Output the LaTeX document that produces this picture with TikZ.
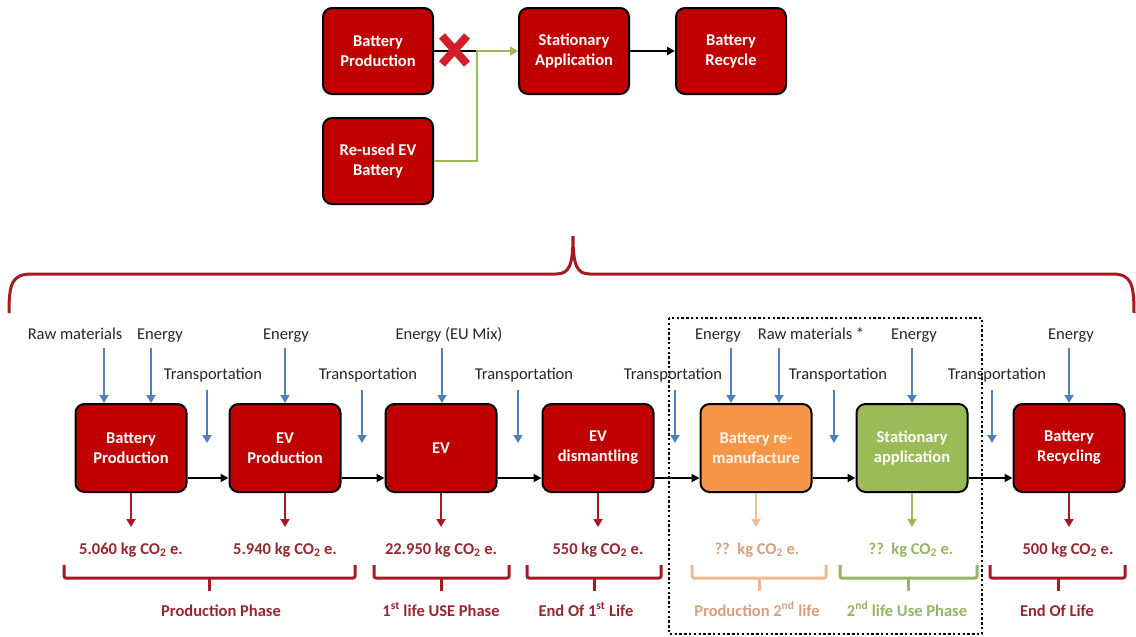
\documentclass[tikz,border=0pt]{standalone}
\usepackage{fontspec}
\setmainfont{Carlito}
\usetikzlibrary{arrows.meta}
\definecolor{boxred}{RGB}{192,0,0}
\definecolor{bracered}{RGB}{165,25,35}
\definecolor{txtred}{RGB}{150,40,50}
\definecolor{bluea}{RGB}{84,128,185}
\definecolor{orangeb}{RGB}{247,150,70}
\definecolor{greenb}{RGB}{155,187,89}
\definecolor{peachtxt}{RGB}{214,160,125}
\definecolor{peacharr}{RGB}{236,190,160}
\definecolor{greentxt}{RGB}{150,180,100}
\definecolor{xred}{RGB}{210,30,40}
\begin{document}
\begin{tikzpicture}[x=1pt,y=-1pt,
  bx/.style={draw=black, line width=2pt, rounded corners=9pt, minimum width=111pt, minimum height=88pt,
    fill=boxred, text=white, font=\bfseries\fontsize{16.5}{20}\selectfont, align=center, inner sep=0pt},
  topbx/.style={bx, minimum width=110pt, minimum height=86pt},
  lab/.style={font=\fontsize{16.5}{19}\selectfont, text=black!85, inner sep=0pt, anchor=base},
  colab/.style={font=\bfseries\fontsize{16.5}{19}\selectfont, inner sep=0pt, anchor=base},
  phase/.style={font=\bfseries\fontsize{16.5}{19}\selectfont, inner sep=0pt, anchor=base},
  flow/.style={draw=black, line width=2pt, -{Triangle[length=8pt,width=8pt]}},
  inarr/.style={draw=bluea, line width=2.6pt, -{Triangle[length=8pt,width=9pt]}},
  outarr/.style={line width=2.2pt, -{Triangle[length=8pt,width=9pt]}},
  smallbrace/.style={line width=3pt, rounded corners=2pt}
]
\useasboundingbox (0,0) rectangle (1136,637);
\fill[white] (0,0) rectangle (1136,637);

% ---------- top diagram ----------
\node[topbx] (tbp) at (378,51) {Battery\\Production};
\node[topbx] (tsa) at (574,51) {Stationary\\Application};
\node[topbx] (tbr) at (731,51) {Battery\\Recycle};
\node[topbx] (tre) at (378,161) {Re-used EV\\Battery};
\coordinate (xend) at (477,51);
\draw[line width=2.2pt] (tbp.east) -- (xend);
\draw[draw=greenb, line width=2.6pt, -{Triangle[length=8pt,width=9pt]}] (tre.east) -| (xend) -- (tsa.west);
\draw[flow] (tsa) -- (tbr);
\draw[xred, line width=8pt] (442,36) -- (467,64) (442,64) -- (467,36);

% ---------- big brace ----------
\draw[bracered, line width=3pt]
  (9,313) .. controls (9,283) and (12,274) .. (32,274) -- (556,274)
  .. controls (569,274) and (573,266) .. (573,236)
  .. controls (573,266) and (577,274) .. (590,274) -- (1112,274)
  .. controls (1131,274) and (1134,283) .. (1134,313);

% ---------- dotted frame ----------
\draw[line width=2.4pt, dash pattern=on 2.4pt off 2.4pt] (669,318) rectangle (982,634);

% ---------- main row ----------
\node[bx] (bp)  at (131,448) {Battery\\Production};
\node[bx] (evp) at (285,448) {EV\\Production};
\node[bx] (ev)  at (441,448) {EV};
\node[bx] (evd) at (598,448) {EV\\dismantling};
\node[bx, fill=orangeb, text=white!92!orange] (brm) at (756,448) {Battery re-\\manufacture};
\node[bx, fill=greenb] (sta) at (912,448) {Stationary\\application};
\node[bx] (brc) at (1069,448) {Battery\\Recycling};

\coordinate (hy) at (0,478);
\draw[flow] (bp.east |- hy) -- (evp.west |- hy);
\draw[flow] (evp.east |- hy) -- (ev.west |- hy);
\draw[flow] (ev.east |- hy) -- (evd.west |- hy);
\draw[flow] (evd.east |- hy) -- (brm.west |- hy);
\draw[flow] (brm.east |- hy) -- (sta.west |- hy);
\draw[flow] (sta.east |- hy) -- (brc.west |- hy);

% input labels
\node[lab] (rm1) at (75,339) {Raw materials};
\node[lab] (en1) at (160,339) {Energy};
\node[lab] (en2) at (286,339) {Energy};
\node[lab] (en3) at (449,339) {Energy (EU Mix)};
\node[lab] (en4) at (718,339) {Energy};
\node[lab] (rm2) at (811,339) {Raw materials *};
\node[lab] (en5) at (914,339) {Energy};
\node[lab] (en6) at (1071,339) {Energy};
\node[lab] (tr1) at (213,379) {Transportation};
\node[lab] (tr2) at (368,379) {Transportation};
\node[lab] (tr3) at (524,379) {Transportation};
\node[lab] (tr4) at (673,379) {Transportation};
\node[lab] (tr5) at (838,379) {Transportation};
\node[lab] (tr6) at (997,379) {Transportation};

% input arrows
\coordinate (a1) at (104,348);
\coordinate (a2) at (151,348);
\coordinate (a3) at (285,348);
\coordinate (a4) at (442,348);
\coordinate (a5) at (731,348);
\coordinate (a6) at (779,348);
\coordinate (a7) at (912,348);
\coordinate (a8) at (1069,348);
\draw[inarr] (a1) -- (a1 |- bp.north);
\draw[inarr] (a2) -- (a2 |- bp.north);
\draw[inarr] (a3) -- (a3 |- evp.north);
\draw[inarr] (a4) -- (a4 |- ev.north);
\draw[inarr] (a5) -- (a5 |- brm.north);
\draw[inarr] (a6) -- (a6 |- brm.north);
\draw[inarr] (a7) -- (a7 |- sta.north);
\draw[inarr] (a8) -- (a8 |- brc.north);
% transport arrows
\coordinate (ty) at (0,443);
\coordinate (t1) at (207,390);
\coordinate (t2) at (362,390);
\coordinate (t3) at (518,390);
\coordinate (t4) at (675,390);
\coordinate (t5) at (834,390);
\coordinate (t6) at (992,390);
\foreach \t in {t1,t2,t3,t4,t5,t6} {\draw[inarr] (\t) -- (\t |- ty);}

% outputs
\node[colab, text=txtred] (c1) at (131,554) {5.060 kg CO\textsubscript{2} e.};
\node[colab, text=txtred] (c2) at (285,554) {5.940 kg CO\textsubscript{2} e.};
\node[colab, text=txtred] (c3) at (441,554) {22.950 kg CO\textsubscript{2} e.};
\node[colab, text=txtred] (c4) at (598,554) {550 kg CO\textsubscript{2} e.};
\node[colab, text=peachtxt] (c5) at (757,554) {??\ \ kg CO\textsubscript{2} e.};
\node[colab, text=greentxt] (c6) at (911,554) {??\ \ kg CO\textsubscript{2} e.};
\node[colab, text=txtred] (c7) at (1068,554) {500 kg CO\textsubscript{2} e.};
\coordinate (oy) at (0,527);
\draw[outarr, bracered] (bp.south) -- (bp.south |- oy);
\draw[outarr, bracered] (evp.south) -- (evp.south |- oy);
\draw[outarr, bracered] (ev.south) -- (ev.south |- oy);
\draw[outarr, bracered] (evd.south) -- (evd.south |- oy);
\draw[outarr, peacharr] (brm.south) -- (brm.south |- oy);
\draw[outarr, greenb] (sta.south) -- (sta.south |- oy);
\draw[outarr, bracered] (brc.south) -- (brc.south |- oy);

% phase braces
\draw[smallbrace, bracered] (64,565) -- (64,578) -- (355,578) -- (355,565);
\draw[line width=3pt, bracered] (209,578) -- (209,591);
\draw[smallbrace, bracered] (374,565) -- (374,578) -- (509,578) -- (509,565);
\draw[line width=3pt, bracered] (441,578) -- (441,591);
\draw[smallbrace, bracered] (527,565) -- (527,578) -- (661,578) -- (661,565);
\draw[line width=3pt, bracered] (594,578) -- (594,591);
\draw[smallbrace, peacharr!90!orange] (692,565) -- (692,578) -- (826,578) -- (826,565);
\draw[line width=3pt, peacharr!90!orange] (759,578) -- (759,591);
\draw[smallbrace, greentxt] (840,565) -- (840,578) -- (977,578) -- (977,565);
\draw[line width=3pt, greentxt] (908,578) -- (908,591);
\draw[smallbrace, bracered] (990,565) -- (990,578) -- (1125,578) -- (1125,565);
\draw[line width=3pt, bracered] (1058,578) -- (1058,591);

\node[phase, text=txtred] (p1) at (221,616) {Production Phase};
\node[phase, text=txtred] (p2) at (441,616) {1\textsuperscript{st} life USE Phase};
\node[phase, text=txtred] (p3) at (586,616) {End Of 1\textsuperscript{st} Life};
\node[phase, text=peachtxt] (p4) at (757,616) {Production 2\textsuperscript{nd} life};
\node[phase, text=greentxt] (p5) at (907,616) {2\textsuperscript{nd} life Use Phase};
\node[phase, text=txtred] (p6) at (1057,616) {End Of Life};
\end{tikzpicture}
\end{document}
